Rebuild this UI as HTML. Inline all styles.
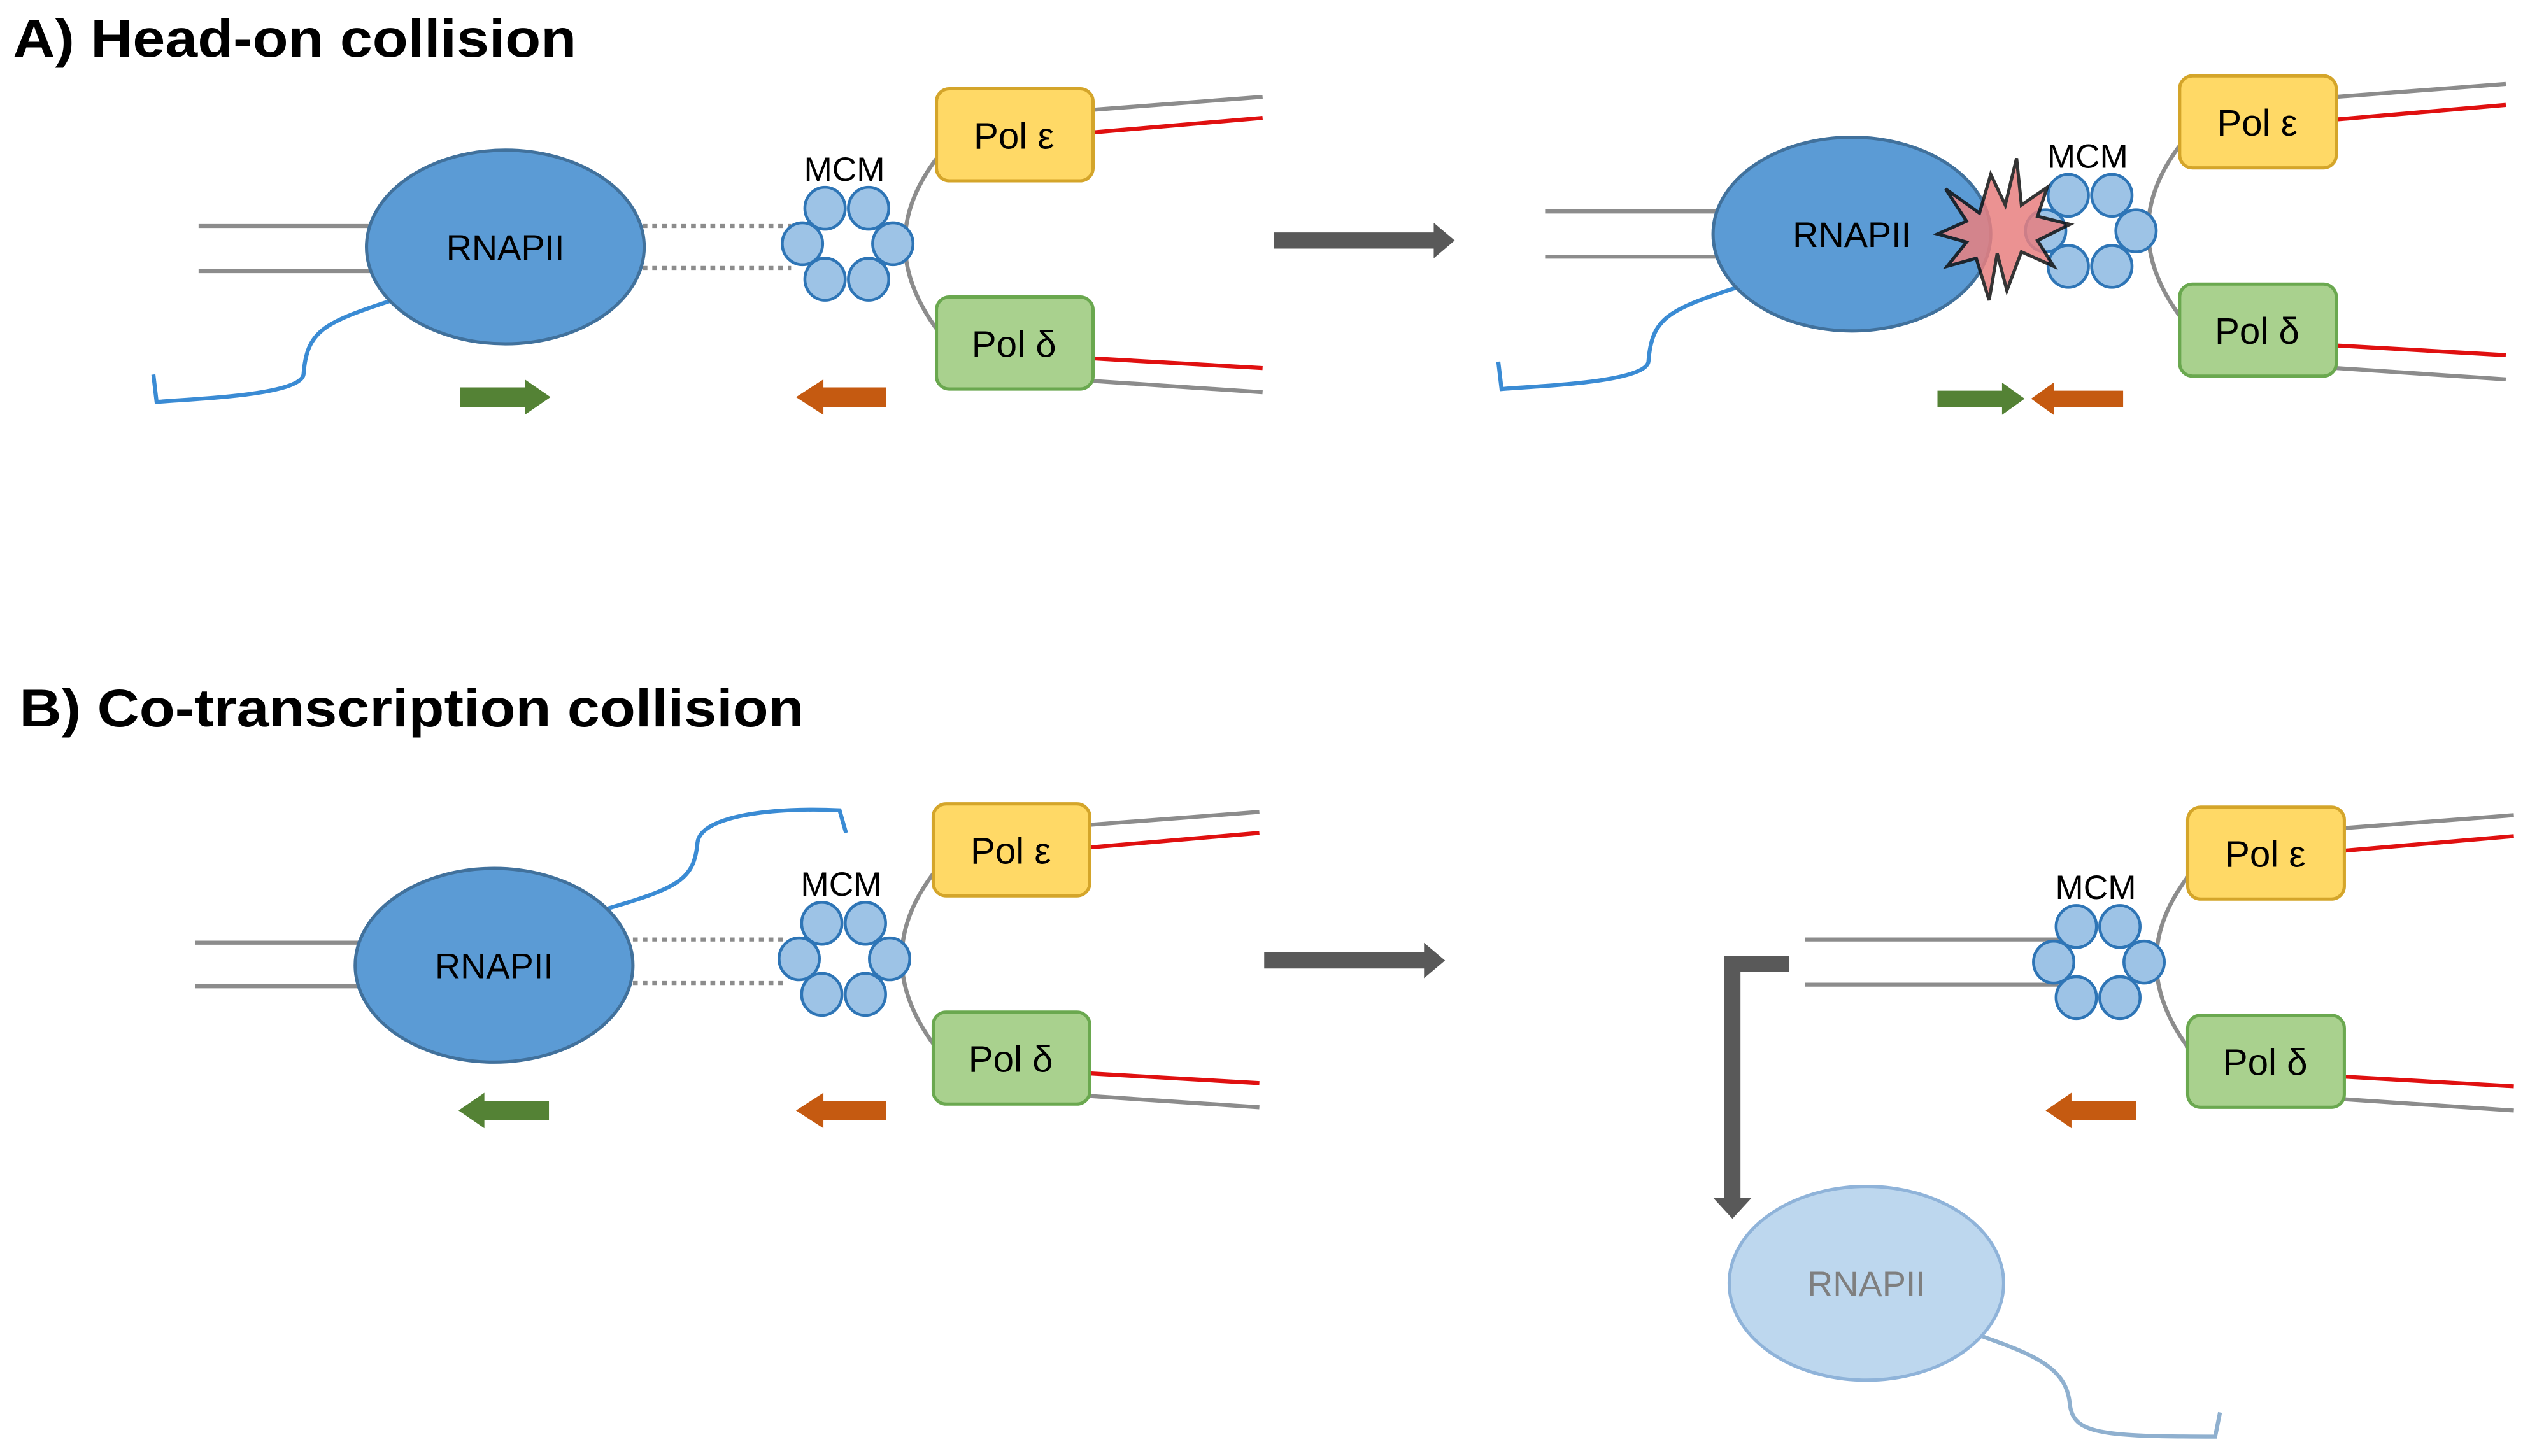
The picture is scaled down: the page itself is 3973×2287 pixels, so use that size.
<!DOCTYPE html>
<html><head><meta charset="utf-8"><style>html,body{margin:0;padding:0;background:#fff}svg{display:block}</style></head><body>
<svg width="3973" height="2287" viewBox="0 0 1567 902" xmlns="http://www.w3.org/2000/svg" font-family="Liberation Sans, sans-serif">
<defs>
<g id="fork">
 <path d="M581,97 Q540,150 581,205" fill="none" stroke="#8c8c8c" stroke-width="2.5"/>
 <line x1="677" y1="68" x2="782" y2="60" stroke="#8c8c8c" stroke-width="2.5"/>
 <line x1="677" y1="82" x2="782" y2="73" stroke="#e01010" stroke-width="2.5"/>
 <line x1="677" y1="222" x2="782" y2="228" stroke="#e01010" stroke-width="2.5"/>
 <line x1="677" y1="236" x2="782" y2="243" stroke="#8c8c8c" stroke-width="2.5"/>
 <g fill="#9dc3e6" stroke="#2e75b6" stroke-width="1.8">
  <ellipse cx="511" cy="129" rx="12.5" ry="13"/><ellipse cx="538" cy="129" rx="12.5" ry="13"/>
  <ellipse cx="497" cy="151" rx="12.5" ry="13"/><ellipse cx="553" cy="151" rx="12.5" ry="13"/>
  <ellipse cx="511" cy="173" rx="12.5" ry="13"/><ellipse cx="538" cy="173" rx="12.5" ry="13"/>
 </g>
 <text x="523" y="112" font-size="21" text-anchor="middle">MCM</text>
 <rect x="580" y="55" width="97" height="57" rx="8" fill="#ffd966" stroke="#d4a52a" stroke-width="2"/>
 <text x="628" y="92" font-size="23" text-anchor="middle">Pol ε</text>
 <rect x="580" y="184" width="97" height="57" rx="8" fill="#a9d18e" stroke="#6aa84f" stroke-width="2"/>
 <text x="628" y="221" font-size="23" text-anchor="middle">Pol δ</text>
</g>
<g id="rna">
 <ellipse cx="0" cy="0" rx="86" ry="60" fill="#5b9bd5" stroke="#41719c" stroke-width="2"/>
 <text x="0" y="8" font-size="22" text-anchor="middle">RNAPII</text>
</g>
</defs>

<text x="8" y="35" font-size="33" font-weight="bold" textLength="349" lengthAdjust="spacingAndGlyphs">A) Head-on collision</text>
<text x="12" y="450" font-size="33" font-weight="bold" textLength="486" lengthAdjust="spacingAndGlyphs">B) Co-transcription collision</text>

<!-- A left -->
<line x1="123" y1="140" x2="232" y2="140" stroke="#8c8c8c" stroke-width="2.5"/>
<line x1="123" y1="168" x2="232" y2="168" stroke="#8c8c8c" stroke-width="2.5"/>
<line x1="398" y1="140" x2="490" y2="140" stroke="#8c8c8c" stroke-width="2.5" stroke-dasharray="3,3"/>
<line x1="398" y1="166" x2="490" y2="166" stroke="#8c8c8c" stroke-width="2.5" stroke-dasharray="3,3"/>
<path d="M243,186 C200,200 190,205 188,232 C186,245 120,247 97,249 L95,232" fill="none" stroke="#3a8bd4" stroke-width="2.5"/>
<use href="#rna" x="313" y="153"/>
<use href="#fork"/>
<path d="M285,240 H325 V235 L341,246 L325,257 V252 H285 Z" fill="#548235"/>
<path d="M549,240 H510 V235 L493,246 L510,257 V252 H549 Z" fill="#c55a11"/>

<path d="M789,144 H888 V138 L901,149 L888,160 V154 H789 Z" fill="#595959"/>

<!-- A right -->
<line x1="957" y1="131" x2="1066" y2="131" stroke="#8c8c8c" stroke-width="2.5"/>
<line x1="957" y1="159" x2="1066" y2="159" stroke="#8c8c8c" stroke-width="2.5"/>
<path d="M1076,178 C1033,192 1023,197 1021,224 C1019,237 953,239 930,241 L928,224" fill="none" stroke="#3a8bd4" stroke-width="2.5"/>
<use href="#rna" x="1147" y="145"/>
<use href="#fork" transform="translate(770,-8)"/>
<path d="M1205,117 L1226,132 L1233,108 L1242,127 L1249,98 L1252,127 L1268,116 L1262,134 L1282,139 L1262,149 L1272,165 L1252,156 L1243,180 L1237,157 L1232,186 L1224,160 L1206,165 L1218,150 L1200,145 L1218,137 Z" fill="#e88080" stroke="#111" stroke-width="2" opacity="0.85"/>
<path d="M1200,242 H1240 V237 L1254,247 L1240,257 V252 H1200 Z" fill="#548235"/>
<path d="M1315,242 H1272 V237 L1258,247 L1272,257 V252 H1315 Z" fill="#c55a11"/>

<!-- B left -->
<line x1="121" y1="584" x2="224" y2="584" stroke="#8c8c8c" stroke-width="2.5"/>
<line x1="121" y1="611" x2="224" y2="611" stroke="#8c8c8c" stroke-width="2.5"/>
<line x1="392" y1="582" x2="488" y2="582" stroke="#8c8c8c" stroke-width="2.5" stroke-dasharray="3,3"/>
<line x1="392" y1="609" x2="488" y2="609" stroke="#8c8c8c" stroke-width="2.5" stroke-dasharray="3,3"/>
<path d="M376,563 C420,550 430,545 432,522 C434,505 480,500 520,502 L524,516" fill="none" stroke="#3a8bd4" stroke-width="2.5"/>
<use href="#rna" x="306" y="598"/>
<use href="#fork" transform="translate(-2,443)"/>
<path d="M340,682 H300 V677 L284,688 L300,699 V694 H340 Z" fill="#548235"/>
<path d="M549,682 H510 V677 L493,688 L510,699 V694 H549 Z" fill="#c55a11"/>

<path d="M783,590 H882 V584 L895,595 L882,606 V600 H783 Z" fill="#595959"/>

<!-- B right -->
<line x1="1118" y1="582" x2="1275" y2="582" stroke="#8c8c8c" stroke-width="2.5"/>
<line x1="1118" y1="610" x2="1275" y2="610" stroke="#8c8c8c" stroke-width="2.5"/>
<use href="#fork" transform="translate(775,445)"/>
<path d="M1323,682 H1283 V677 L1267,688 L1283,699 V694 H1323 Z" fill="#c55a11"/>
<path d="M1108,592 H1068 V742 H1061 L1073,755 L1085,742 H1078 V602 H1108 Z" fill="#595959"/>
<path d="M1228,828 C1262,840 1280,848 1282,870 C1284,888 1300,890 1372,890 L1375,875" fill="none" stroke="#8fb0cf" stroke-width="2.5"/>
<ellipse cx="1156" cy="795" rx="85" ry="60" fill="#bdd7ee" stroke="#8fb3d9" stroke-width="2"/>
<text x="1156" y="803" font-size="22" text-anchor="middle" fill="#7f7f7f">RNAPII</text>
</svg>
</body></html>
